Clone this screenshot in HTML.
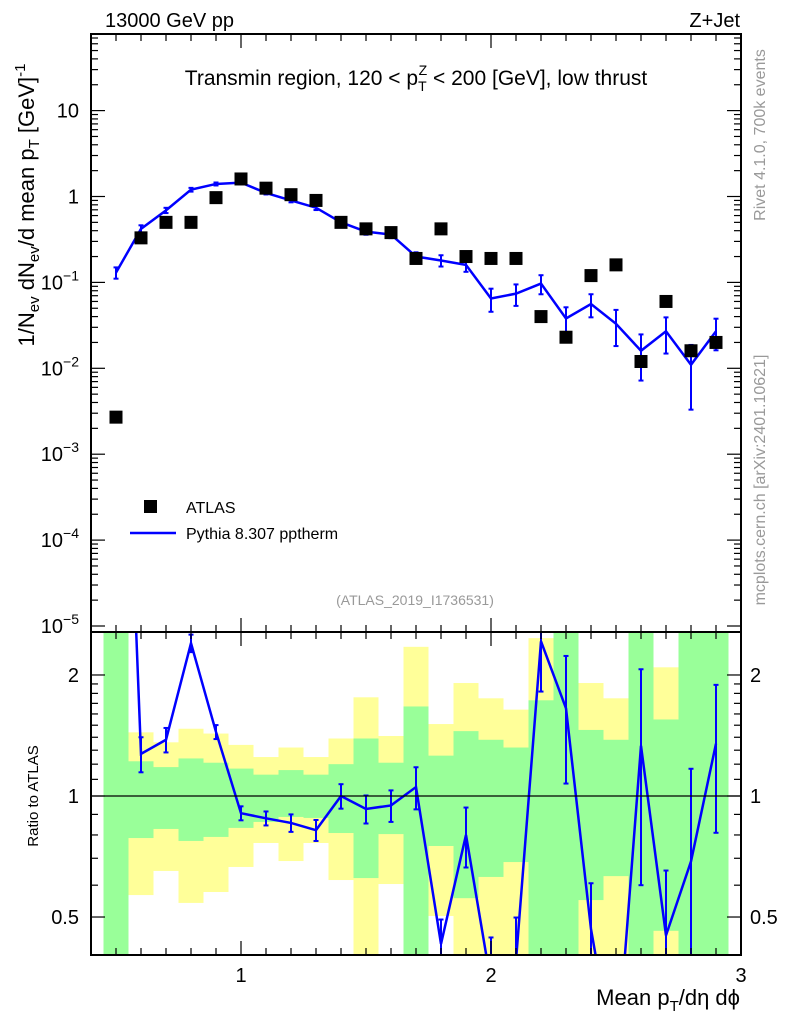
<!DOCTYPE html>
<html><head><meta charset="utf-8">
<style>
html,body{margin:0;padding:0;background:#fff;width:786px;height:1024px;overflow:hidden;}
svg{display:block;font-family:"Liberation Sans",sans-serif;}
</style></head>
<body>
<svg id="c" width="786" height="1024" viewBox="0 0 786 1024" xmlns="http://www.w3.org/2000/svg">
<g id="bands"></g>
<g id="marks"></g>
<g id="axes"></g>
<text x="105" y="27" font-size="20">13000 GeV pp</text>
<text x="740" y="27" font-size="20" text-anchor="end">Z+Jet</text>
<text x="416" y="85" font-size="21" text-anchor="middle">Transmin region, 120 &lt; p<tspan font-size="14" dy="6">T</tspan><tspan font-size="14" dx="-8" dy="-16">Z</tspan><tspan dy="10"> &lt; 200 [GeV], low thrust</tspan></text>
<rect x="144" y="500" width="13" height="13" fill="#000"/>
<text x="186" y="513" font-size="16">ATLAS</text>
<line x1="130" y1="533" x2="176" y2="533" stroke="#0000ff" stroke-width="2.5"/>
<text x="186" y="539" font-size="16">Pythia 8.307 pptherm</text>
<text x="415" y="605" font-size="14" fill="#999" text-anchor="middle">(ATLAS_2019_I1736531)</text>
<text transform="translate(765,135) rotate(-90)" font-size="16" fill="#999" text-anchor="middle">Rivet 4.1.0,  700k events</text>
<text transform="translate(765,480) rotate(-90)" font-size="16" fill="#999" text-anchor="middle">mcplots.cern.ch [arXiv:2401.10621]</text>
<text transform="translate(34,205) rotate(-90)" font-size="22" text-anchor="middle">1/N<tspan font-size="15" dy="5">ev</tspan><tspan dy="-5"> dN</tspan><tspan font-size="15" dy="5">ev</tspan><tspan dy="-5">/d mean p</tspan><tspan font-size="15" dy="5">T</tspan><tspan dy="-5"> [GeV]</tspan><tspan font-size="15" dy="-9">-1</tspan></text>
<text transform="translate(38,796) rotate(-90)" font-size="15" text-anchor="middle">Ratio to ATLAS</text>
<text x="740" y="1005" font-size="22" text-anchor="end">Mean p<tspan font-size="15" dy="6">T</tspan><tspan dy="-6">/dη dϕ</tspan></text>
</svg>
<script>
const xCenters=[0.5,0.6,0.7,0.8,0.9,1.0,1.1,1.2,1.3,1.4,1.5,1.6,1.7,1.8,1.9,2.0,2.1,2.2,2.3,2.4,2.5,2.6,2.7,2.8,2.9];
const atlasVals=[0.0027,0.33,0.5,0.5,0.97,1.6,1.25,1.05,0.9,0.5,0.42,0.38,0.19,0.42,0.2,0.19,0.19,0.04,0.023,0.12,0.16,0.012,0.06,0.016,0.02];
const pythiaVals=[0.13,0.42,0.69,1.2,1.4,1.45,1.1,0.9,0.74,0.5,0.39,0.36,0.2,0.18,0.16,0.065,0.074,0.097,0.038,0.056,0.033,0.016,0.027,0.011,0.027];
const pythiaRelErr=[0.15,0.1,0.07,0.05,0.04,0.04,0.04,0.05,0.06,0.07,0.08,0.09,0.12,0.15,0.17,0.3,0.28,0.25,0.35,0.3,0.45,0.55,0.45,0.7,0.4];
const yellowHi=[10,1.44,1.36,1.47,1.43,1.34,1.25,1.32,1.25,1.39,1.76,1.41,2.35,1.51,1.91,1.75,1.64,2.47,10,1.91,1.75,10,2.09,10,10];
const greenHi=[10,1.22,1.18,1.24,1.21,1.17,1.13,1.16,1.13,1.20,1.39,1.21,1.67,1.26,1.45,1.38,1.32,1.73,10,1.46,1.38,10,1.55,10,10];
const greenLo=[0.1,0.786,0.828,0.773,0.791,0.833,0.862,0.887,0.882,0.809,0.625,0.804,0.1,0.751,0.557,0.629,0.685,0.1,0.1,0.551,0.632,0.1,0.462,0.1,0.1];
const yellowLo=[0.1,0.567,0.651,0.542,0.577,0.666,0.764,0.689,0.764,0.618,0.1,0.604,0.1,0.503,0.1,0.1,0.1,0.1,0.1,0.1,0.1,0.1,0.1,0.1,0.1];
const mainYTicks=["10","1","10^-1","10^-2","10^-3","10^-4","10^-5"];
const ratioTicks=[0.5,1,2];
const xTickLabels=[1,2,3];

const NS="http://www.w3.org/2000/svg";
const L=91,R=741,T=34,MB=632,RB=955;
const X=v=>L+(v-0.4)*(R-L)/2.6;
const Y=v=>196.5-Math.log10(v)*85.9;
const RY=v=>{let p=796-Math.log10(v)*402;return Math.max(MB,Math.min(RB,p));};
function mk(tag,attrs,parent){const e=document.createElementNS(NS,tag);for(const k in attrs)e.setAttribute(k,attrs[k]);parent.appendChild(e);return e;}
const bands=document.getElementById('bands'),marks=document.getElementById('marks'),axes=document.getElementById('axes');
const hw=0.05;
xCenters.forEach((x,i)=>{
  const x0=X(x-hw),x1=X(x+hw);
  let r=mk('rect',{x:x0,y:RY(yellowHi[i]),width:x1-x0,height:RY(yellowLo[i])-RY(yellowHi[i]),fill:'#ffff99'},bands);
  
  
  let g=mk('rect',{x:x0,y:RY(greenHi[i]),width:x1-x0,height:RY(greenLo[i])-RY(greenHi[i]),fill:'#99ff99'},bands);
  
  
});
mk('line',{x1:L,x2:R,y1:796,y2:796,stroke:'#000','stroke-width':1.2},axes);
let pts=xCenters.map((x,i)=>X(x)+','+Y(pythiaVals[i])).join(' ');
let pl=mk('polyline',{points:pts,fill:'none',stroke:'#0000ff','stroke-width':2.5},marks);


xCenters.forEach((x,i)=>{
  const v=pythiaVals[i],e=pythiaRelErr[i];
  const y0=Y(v*(1+e)),y1=Y(Math.max(v*(1-e),1e-6));
  const g=mk('g',{stroke:'#0000ff','stroke-width':2},marks);
  
  
  mk('line',{x1:X(x),x2:X(x),y1:y0,y2:y1},g);
  mk('line',{x1:X(x)-2.5,x2:X(x)+2.5,y1:y0,y2:y0},g);
  mk('line',{x1:X(x)-2.5,x2:X(x)+2.5,y1:y1,y2:y1},g);
});
xCenters.forEach((x,i)=>{
  const s=mk('rect',{x:X(x)-6.5,y:Y(atlasVals[i])-6.5,width:13,height:13,fill:'#000'},marks);
  
  
});
const clip=mk('clipPath',{id:'rc'},document.getElementById('c'));
mk('rect',{x:L,y:MB,width:R-L,height:RB-MB},clip);
const rg=mk('g',{'clip-path':'url(#rc)'},marks);
const rRaw=v=>796-Math.log10(v)*402;
let rp=xCenters.map((x,i)=>X(x)+','+rRaw(pythiaVals[i]/atlasVals[i])).join(' ');
let rl=mk('polyline',{points:rp,fill:'none',stroke:'#0000ff','stroke-width':2.5},rg);


xCenters.forEach((x,i)=>{
  const r=pythiaVals[i]/atlasVals[i],e=pythiaRelErr[i];
  const y0=rRaw(r*(1+e)),y1=rRaw(Math.max(r*(1-e),1e-6));
  const g=mk('g',{stroke:'#0000ff','stroke-width':2},rg);
  
  
  mk('line',{x1:X(x),x2:X(x),y1:y0,y2:y1},g);
  mk('line',{x1:X(x)-2.5,x2:X(x)+2.5,y1:y0,y2:y0},g);
  mk('line',{x1:X(x)-2.5,x2:X(x)+2.5,y1:y1,y2:y1},g);
});
mk('rect',{x:L,y:T,width:R-L,height:MB-T,fill:'none',stroke:'#000','stroke-width':2},axes);
mk('rect',{x:L,y:MB,width:R-L,height:RB-MB,fill:'none',stroke:'#000','stroke-width':2},axes);
for(let k=5;k<=30;k++){
  const v=k/10,x=X(v),big=(k%10===0),len=big?14:7;
  [[T,1],[MB,-1],[MB,1],[RB,-1]].forEach(([y,d])=>mk('line',{x1:x,x2:x,y1:y,y2:y+d*len,stroke:'#000','stroke-width':1.2},axes));
}
xTickLabels.forEach(v=>{
  const t=mk('text',{x:X(v),y:982,'font-size':20,'text-anchor':'middle'},axes);
  t.textContent=v;
  
  
});
for(let d=-5;d<=1;d++){
  for(let m=1;m<=9;m++){
    const v=m*Math.pow(10,d),y=Y(v);if(y<T)continue;
    const len=m===1?14:7;
    mk('line',{x1:L,x2:L+len,y1:y,y2:y,stroke:'#000','stroke-width':1.2},axes);
    mk('line',{x1:R,x2:R-len,y1:y,y2:y,stroke:'#000','stroke-width':1.2},axes);
  }
}
mainYTicks.forEach((lab,i)=>{
  const y=Y(Math.pow(10,1-i));
  const t=mk('text',{x:79,y:y+7,'font-size':20,'text-anchor':'end'},axes);
  if(lab.indexOf('^')>=0){const [b,e]=lab.split('^');t.textContent=b;const ts=mk('tspan',{'font-size':14,dy:-9},t);ts.textContent=e.replace('-','\u2212');}
  else t.textContent=lab;
  
  
});
[0.4,0.5,0.6,0.7,0.8,0.9,1,2].concat([1.1,1.2,1.3,1.4,1.5,1.6,1.7,1.8,1.9]).forEach(v=>{
  const y=RY(v);const len=(v===0.5||v===1||v===2)?14:7;
  mk('line',{x1:L,x2:L+len,y1:y,y2:y,stroke:'#000','stroke-width':1.2},axes);
  mk('line',{x1:R,x2:R-len,y1:y,y2:y,stroke:'#000','stroke-width':1.2},axes);
});
ratioTicks.forEach(v=>{
  const y=RY(v);
  const t=mk('text',{x:79,y:y+7,'font-size':20,'text-anchor':'end'},axes);
  t.textContent=v;
  
  
  const t2=mk('text',{x:750,y:y+7,'font-size':20},axes);
  t2.textContent=v;
  
  
});
</script>
</body></html>
